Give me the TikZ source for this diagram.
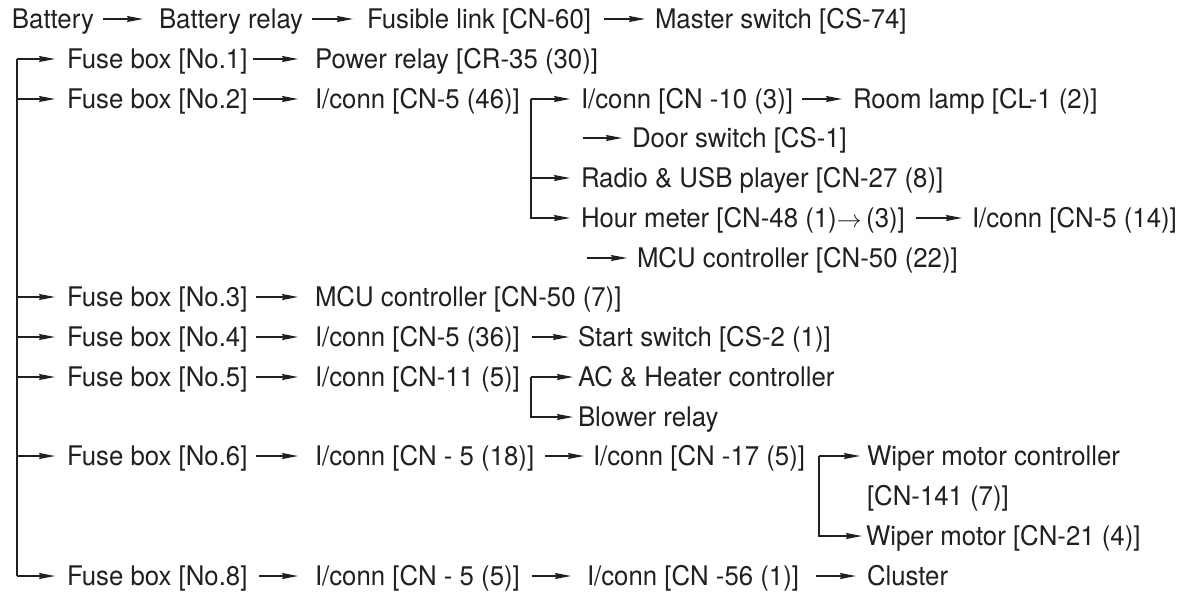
\documentclass[tikz,border=0pt]{standalone}
\usepackage{fontspec}
\setmainfont{TeX Gyre Heros}[FakeStretch=0.955]
\usetikzlibrary{arrows.meta}
\definecolor{ink}{HTML}{231F20}
\begin{document}
\begin{tikzpicture}[x=1pt,y=-1pt,
  lbl/.style={anchor=west, inner sep=0pt, outer sep=0pt, text height=19.4pt, text depth=0pt,
              font=\fontsize{27}{32}\selectfont, text=ink},
  arr/.style={-{Stealth[length=16pt,width=6pt,inset=1.5pt]}, line width=1.2pt, draw=ink},
  ln/.style={line width=1.2pt, draw=ink}]
\useasboundingbox (0,0) rectangle (1193,597);
% row 1
\node[lbl] (bat)  at (12,19)  {Battery};
\node[lbl] (brel) at (159,19) {Battery relay};
\node[lbl] (fl)   at (367,19) {Fusible link [CN-60]};
\node[lbl] (ms)   at (655,19) {Master switch [CS-74]};
\draw[arr, shorten <=9pt, shorten >=16pt] (bat) -- (brel);
\draw[arr, shorten <=9pt, shorten >=14pt] (brel) -- (fl);
\draw[arr, shorten <=13pt, shorten >=10pt] (fl) -- (ms);
% fuse boxes
\node[lbl] (f1) at (67,59)  {Fuse box [No.1]};
\node[lbl] (f2) at (67,99)  {Fuse box [No.2]};
\node[lbl] (f3) at (67,297) {Fuse box [No.3]};
\node[lbl] (f4) at (67,337) {Fuse box [No.4]};
\node[lbl] (f5) at (67,377) {Fuse box [No.5]};
\node[lbl] (f6) at (67,456) {Fuse box [No.6]};
\node[lbl] (f8) at (67,576) {Fuse box [No.8]};
\coordinate (trunk) at (17,59);
\draw[ln] (trunk) -- (trunk |- f8.west);
\foreach \f in {f1,f2,f3,f4,f5,f6,f8}
  \draw[arr, shorten >=12pt] (trunk |- \f.west) -- (\f.west);
% second column
\node[lbl] (pr)   at (315,59)  {Power relay [CR-35 (30)]};
\node[lbl] (i46)  at (315,99)  {I/conn [CN-5 (46)]};
\node[lbl] (mcu7) at (315,297) {MCU controller [CN-50 (7)]};
\node[lbl] (i36)  at (315,337) {I/conn [CN-5 (36)]};
\node[lbl] (i11)  at (315,377) {I/conn [CN-11 (5)]};
\node[lbl] (i18)  at (315,456) {I/conn [CN - 5 (18)]};
\node[lbl] (i5)   at (315,576) {I/conn [CN - 5 (5)]};
\draw[arr, shorten <=6pt, shorten >=17pt] (f1) -- (pr);
\draw[arr, shorten <=6pt, shorten >=17pt] (f2) -- (i46);
\draw[arr, shorten <=9pt, shorten >=17pt] (f3) -- (mcu7);
\draw[arr, shorten <=9pt, shorten >=17pt] (f4) -- (i36);
\draw[arr, shorten <=9pt, shorten >=17pt] (f5) -- (i11);
\draw[arr, shorten <=9pt, shorten >=17pt] (f6) -- (i18);
\draw[arr, shorten <=12pt, shorten >=17pt] (f8) -- (i5);
% fuse 2 branch
\node[lbl] (i10)   at (581,99)  {I/conn [CN -10 (3)]};
\node[lbl] (room)  at (853,99)  {Room lamp [CL-1 (2)]};
\node[lbl] (door)  at (632,138) {Door switch [CS-1]};
\node[lbl] (radio) at (581,178) {Radio \& USB player [CN-27 (8)]};
\node[lbl] (hm)    at (581,218) {Hour meter [CN-48 (1)$\rightarrow$\,(3)]};
\node[lbl] (i14)   at (972,218) {I/conn [CN-5 (14)]};
\node[lbl] (mcu22) at (637,258) {MCU controller [CN-50 (22)]};
\coordinate (j1) at (531,99);
\draw[arr, shorten >=11pt] (j1) -- (i10.west);
\draw[arr, shorten >=11pt] (j1) |- (radio.west);
\draw[arr, shorten >=11pt] (j1) |- (hm.west);
\draw[arr, shorten <=9pt, shorten >=11pt] (i10) -- (room);
\coordinate (d0) at (583,138);
\draw[arr, shorten >=10pt] (d0) -- (door.west);
\draw[arr, shorten <=11pt, shorten >=10pt] (hm) -- (i14);
\coordinate (m0) at (587,258);
\draw[arr, shorten >=10pt] (m0) -- (mcu22.west);
% fuse 4
\node[lbl] (start) at (578,337) {Start switch [CS-2 (1)]};
\draw[arr, shorten <=12pt, shorten >=9pt] (i36) -- (start);
% fuse 5 branch
\node[lbl] (ac)     at (578,377) {AC \& Heater controller};
\node[lbl] (blower) at (578,417) {Blower relay};
\coordinate (j2) at (531,377);
\draw[arr, shorten >=5pt] (j2) -- (ac.west);
\draw[arr, shorten >=5pt] (j2) |- (blower.west);
% fuse 6 branch
\node[lbl] (i17)  at (593,456) {I/conn [CN -17 (5)]};
\node[lbl] (wmc)  at (867,456) {Wiper motor controller};
\node[lbl] (wmc2) at (867,496) {[CN-141 (7)]};
\node[lbl] (wm)   at (866,536) {Wiper motor [CN-21 (4)]};
\draw[arr, shorten <=11pt, shorten >=9pt] (i18) -- (i17);
\coordinate (j3) at (819,456);
\draw[arr, shorten >=7pt] (j3) -- (wmc.west);
\draw[arr, shorten >=4pt] (j3) |- (wm.west);
% fuse 8
\node[lbl] (i56)  at (587,576) {I/conn [CN -56 (1)]};
\node[lbl] (clus) at (867,576) {Cluster};
\draw[arr, shorten <=12pt, shorten >=16pt] (i5) -- (i56);
\draw[arr, shorten <=17pt, shorten >=11pt] (i56) -- (clus);
\end{tikzpicture}
\end{document}
